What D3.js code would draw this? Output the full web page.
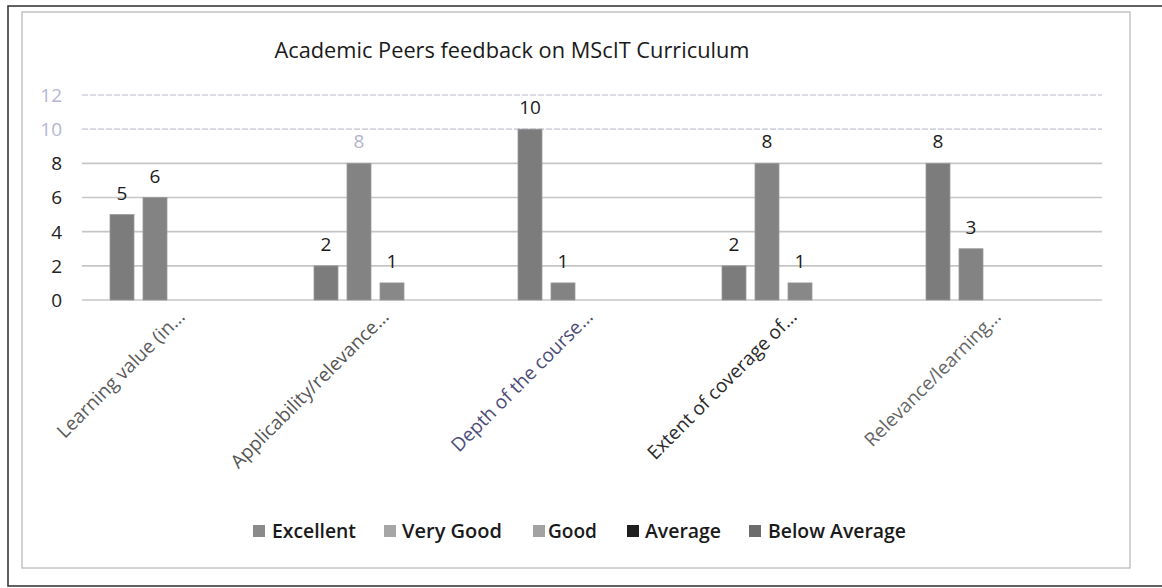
<!DOCTYPE html>
<html><head><meta charset="utf-8">
<script src="https://cdn.jsdelivr.net/npm/d3@7"></script>
<style>body{margin:0;background:#fff}svg{display:block}text{font-family:"Open Sans",sans-serif}</style>
</head><body><svg id="c" width="1162" height="588"></svg>
<script>
const categories = ["Learning value (in...", "Applicability/relevance...", "Depth of the course...", "Extent of coverage of...", "Relevance/learning..."];
const series = ["Excellent", "Very Good", "Good", "Average", "Below Average"];
const excellent = [5, 2, 10, 2, 8];
const veryGood = [6, 8, 1, 8, 3];
const good = [null, 1, null, 1, null];
const average = [null, null, null, null, null];
const belowAverage = [null, null, null, null, null];
const yTicks = [0, 2, 4, 6, 8, 10, 12];
const title = "Academic Peers feedback on MScIT Curriculum";

const values = [excellent, veryGood, good, average, belowAverage];
const barColors = ["#7c7c7c", "#838383", "#888888", "#222222", "#666666"];
const swatchColors = ["#8a8a8a", "#a6a6a6", "#a2a2a2", "#1e1e1e", "#6c6c6c"];
const tickColors = ["#222", "#222", "#222", "#222", "#222", "#b6b6d2", "#b6b6d2"];
const catColors = ["#5a5a5a", "#555555", "#4c4c78", "#2a2a2a", "#666666"];

const svg = d3.select("#c");
// frames
svg.append("rect").attr("x", 8).attr("y", 6).attr("width", 1170).attr("height", 580)
  .attr("fill", "none").attr("stroke", "#3a3a3a").attr("stroke-width", 1.6);
svg.append("rect").attr("x", 22).attr("y", 12).attr("width", 1108).attr("height", 556)
  .attr("fill", "none").attr("stroke", "#c4c4c4").attr("stroke-width", 1.5);

const x0 = d3.scaleBand().domain(categories).range([82, 1102]);
const x1 = d3.scaleBand().domain(series).range([28, 184]).paddingInner(0.273).paddingOuter(0);
const y = d3.scaleLinear().domain([0, 12]).range([300, 95]);

// gridlines
svg.append("g").selectAll("line").data(yTicks).join("line")
  .attr("x1", 82).attr("x2", 1102)
  .attr("y1", d => y(d)).attr("y2", d => y(d))
  .attr("stroke", d => d >= 10 ? "#d2d2de" : "#c6c6c6").attr("stroke-width", 1.6)
  .attr("stroke-dasharray", d => d >= 10 ? "6,2" : null);

// y tick labels
svg.append("g").selectAll("text").data(yTicks).join("text")
  .attr("x", 62).attr("y", d => y(d)).attr("dy", "0.36em")
  .attr("text-anchor", "end").attr("font-size", 19)
  .attr("fill", (d, i) => tickColors[i]).text(d => d);

// bars
const flat = [];
categories.forEach((c, ci) => series.forEach((s, si) => {
  const v = values[si][ci];
  if (v != null) flat.push({c, s, v, si, ci});
}));
svg.append("g").selectAll("rect").data(flat).join("rect")
  .attr("x", d => x0(d.c) + x1(d.s)).attr("width", x1.bandwidth())
  .attr("y", d => y(d.v)).attr("height", d => y(0) - y(d.v))
  .attr("fill", d => barColors[d.si]).attr("stroke", "#9a9a9a").attr("stroke-width", 0.8);

// value labels
svg.append("g").selectAll("text").data(flat).join("text")
  .attr("x", d => x0(d.c) + x1(d.s) + x1.bandwidth() / 2)
  .attr("y", d => y(d.v) - 15)
  .attr("text-anchor", "middle").attr("font-size", 19)
  .attr("fill", d => (d.ci === 1 && d.si === 1) ? "#b4b4d0" : "#1a1a1a")
  .text(d => d.v);

// x labels
svg.append("g").selectAll("text").data(categories).join("text")
  .attr("transform", d => `translate(${x0(d) + x0.bandwidth() / 2 + 2},${y(0) + 18}) rotate(-45)`)
  .attr("text-anchor", "end").attr("font-size", 19)
  .attr("fill", (d, i) => catColors[i]).text(d => d);

// title
svg.append("text").attr("x", 512).attr("y", 58).attr("text-anchor", "middle")
  .attr("font-size", 22).attr("textLength", 475).attr("lengthAdjust", "spacingAndGlyphs")
  .attr("fill", "#1a1a1a").text(title);

// legend
const legX = [253, 384, 533, 627, 749];
const legT = [272, 402, 548, 645, 768];
const legW = [84, 100, 49, 76, 138];
const lg = svg.append("g").selectAll("g").data(series).join("g");
lg.append("rect").attr("x", (d, i) => legX[i]).attr("y", 525).attr("width", 12).attr("height", 12)
  .attr("fill", (d, i) => swatchColors[i]);
lg.append("text").attr("x", (d, i) => legT[i]).attr("y", 531).attr("dy", "0.36em")
  .attr("font-size", 19).attr("font-weight", 600)
  .attr("textLength", (d, i) => legW[i]).attr("lengthAdjust", "spacingAndGlyphs")
  .attr("fill", "#1a1a1a").text(d => d);
</script></body></html>
